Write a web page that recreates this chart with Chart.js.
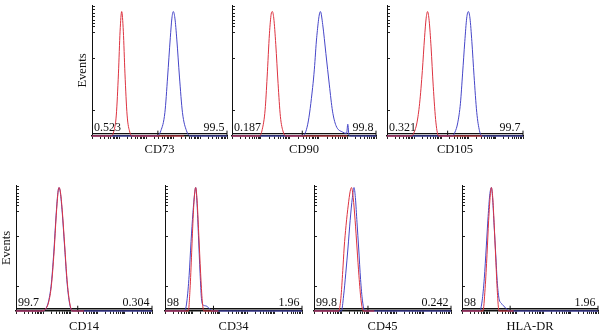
<!DOCTYPE html>
<html><head><meta charset="utf-8">
<script src="https://cdn.jsdelivr.net/npm/chart.js@4.4.1/dist/chart.umd.min.js"></script>
<style>
html,body{margin:0;padding:0;background:#fff;width:600px;height:333px;overflow:hidden;position:relative}
canvas{position:absolute}
</style></head><body>
<script>
// ---------- data ----------
const markers = ['CD73', 'CD90', 'CD105', 'CD14', 'CD34', 'CD45', 'HLA-DR'];
const leftPercent = ['0.523', '0.187', '0.321', '99.7', '98', '99.8', '98'];
const rightPercent = ['99.5', '99.8', '99.7', '0.304', '1.96', '0.242', '1.96'];
const gateSplit = [2.44, 2.44, 2.23, 2.27, 1.77, 1.97, 1.77];   // log10 fluorescence
const yTickValues = [19.6, 59.2, 78.8, 83.9, 86.0, 88.5, 91.1, 93.6, 96.2, 99.2];
const decadeStarts = [0, 1, 2, 3, 4];
const decadeMultipliers = [1, 2, 3, 4, 5, 6, 7, 8, 9];

// histograms: x = log10 fluorescence, y = events (% of max)
const cd73RedX  = [0, 0.70, 0.80, 0.90, 0.98, 1.04, 1.10, 1.16, 1.22, 1.30, 1.40, 1.50, 3.40];
const cd73RedY  = [0, 0, 3, 16, 48, 80, 95, 80, 48, 16, 3, 0, 0];
const cd73BlueX = [0, 2.40, 2.55, 2.70, 2.80, 2.90, 2.96, 3.01, 3.07, 3.14, 3.24, 3.35, 3.50, 3.65, 5];
const cd73BlueY = [0, 0, 4, 18, 45, 75, 90, 95, 90, 74, 45, 18, 4, 0, 0];

const cd90RedX  = [0, 0.95, 1.05, 1.15, 1.22, 1.30, 1.36, 1.40, 1.45, 1.52, 1.60, 1.68, 1.78, 1.88, 4.0];
const cd90RedY  = [0, 0, 5, 20, 45, 78, 93, 95, 90, 70, 40, 15, 3, 0, 0];
const cd90BlueX = [0, 2.44, 2.63, 2.80, 2.86, 2.94, 3.07, 3.15, 3.26, 3.38, 3.49, 3.61, 3.84, 3.98, 4.02, 4.06, 4.12, 5];
const cd90BlueY = [0, 0, 9, 37, 51, 75, 95, 85, 63, 39, 19, 8, 3, 2, 9, 1, 0, 0];

const cd105RedX  = [0, 0.90, 1.00, 1.10, 1.20, 1.30, 1.38, 1.44, 1.49, 1.55, 1.62, 1.70, 1.80, 1.90, 3.5];
const cd105RedY  = [0, 0, 3, 10, 25, 50, 75, 90, 95, 88, 68, 38, 10, 0, 0];
const cd105BlueX = [0, 2.40, 2.50, 2.60, 2.70, 2.78, 2.86, 2.93, 2.99, 3.05, 3.12, 3.20, 3.30, 3.40, 3.50, 5];
const cd105BlueY = [0, 0, 3, 10, 25, 48, 72, 90, 95, 90, 72, 46, 18, 4, 0, 0];

const cd14RedX  = [0, 0.95, 1.10, 1.20, 1.30, 1.40, 1.48, 1.54, 1.58, 1.63, 1.70, 1.79, 1.88, 1.97, 2.07, 2.5];
const cd14RedY  = [0, 0, 2, 7, 20, 47, 76, 93, 98, 95, 80, 52, 24, 7, 0, 0];
const cd14BlueX = [0, 0.95, 1.10, 1.20, 1.30, 1.40, 1.48, 1.54, 1.58, 1.63, 1.70, 1.79, 1.88, 1.97, 2.07, 5];
const cd14BlueY = [0, 0, 2, 8, 22, 50, 78, 94, 98, 94, 78, 50, 22, 6, 0, 0];

const cd34RedX  = [0, 0.85, 0.92, 0.98, 1.04, 1.09, 1.12, 1.17, 1.23, 1.30, 1.36, 1.42, 1.95];
const cd34RedY  = [0, 0, 20, 50, 80, 95, 98, 88, 62, 30, 8, 0, 0];
const cd34BlueX = [0, 0.72, 0.80, 0.88, 0.95, 1.02, 1.08, 1.12, 1.17, 1.22, 1.28, 1.33, 1.38, 1.50, 1.62, 1.75, 5];
const cd34BlueY = [0, 0, 8, 28, 55, 78, 93, 98, 85, 60, 30, 10, 5, 4, 2, 0, 0];

const cd45RedX  = [0, 0.90, 0.98, 1.05, 1.10, 1.17, 1.25, 1.32, 1.37, 1.43, 1.50, 1.57, 1.64, 1.72, 1.80, 2.2];
const cd45RedY  = [0, 0, 10, 32, 50, 68, 84, 95, 98, 90, 72, 50, 28, 8, 0, 0];
const cd45BlueX = [0, 1.00, 1.08, 1.16, 1.24, 1.32, 1.40, 1.46, 1.51, 1.57, 1.63, 1.70, 1.77, 1.86, 5];
const cd45BlueY = [0, 0, 12, 30, 50, 72, 90, 98, 90, 70, 50, 25, 8, 0, 0];

const hlaRedX  = [0, 0.77, 0.85, 0.92, 0.98, 1.04, 1.08, 1.13, 1.18, 1.24, 1.30, 1.36, 1.9];
const hlaRedY  = [0, 0, 18, 45, 72, 92, 98, 90, 70, 42, 15, 0, 0];
const hlaBlueX = [0, 0.65, 0.74, 0.82, 0.89, 0.96, 1.02, 1.08, 1.13, 1.18, 1.24, 1.30, 1.36, 1.45, 1.58, 1.74, 5];
const hlaBlueY = [0, 0, 8, 26, 50, 75, 92, 98, 88, 68, 45, 22, 10, 6, 3, 0, 0];

const redSeries  = [[cd73RedX, cd73RedY], [cd90RedX, cd90RedY], [cd105RedX, cd105RedY], [cd14RedX, cd14RedY], [cd34RedX, cd34RedY], [cd45RedX, cd45RedY], [hlaRedX, hlaRedY]];
const blueSeries = [[cd73BlueX, cd73BlueY], [cd90BlueX, cd90BlueY], [cd105BlueX, cd105BlueY], [cd14BlueX, cd14BlueY], [cd34BlueX, cd34BlueY], [cd45BlueX, cd45BlueY], [hlaBlueX, hlaBlueY]];

// ---------- layout (plot-area pixel boxes) ----------
const panelLayout = [
  {left: 92,  right: 228, top: 0,   bottom: 136, yTitle: true,  titlePad: 2.8},
  {left: 232, right: 377, top: 0,   bottom: 136, yTitle: false, titlePad: 2.8},
  {left: 387, right: 524, top: 0,   bottom: 136, yTitle: false, titlePad: 2.8},
  {left: 16,  right: 153, top: 180, bottom: 311, yTitle: true,  titlePad: 0.8},
  {left: 165, right: 303, top: 180, bottom: 311, yTitle: false, titlePad: 0.8},
  {left: 314, right: 452, top: 180, bottom: 311, yTitle: false, titlePad: 0.8},
  {left: 462, right: 599, top: 180, bottom: 311, yTitle: false, titlePad: 0.8}
];
const Y_AXIS_W = 20, X_AXIS_H = 24, PAD_R = 4;
const RED = '#dd3340', BLUE = '#4646c8';
const FONT = '"Liberation Serif", "Times New Roman", serif';
const GATE_Y = 1.8;

Chart.defaults.font.family = FONT;

function pts(xs, ys) { return xs.map((x, i) => ({x: x, y: ys[i]})); }

const gateLabels = {
  id: 'gateLabels',
  afterDatasetsDraw(chart, args, opts) {
    const {ctx, chartArea, scales} = chart;
    const y = scales.y.getPixelForValue(GATE_Y) - 3;
    ctx.save();
    ctx.fillStyle = '#111';
    ctx.font = '12px ' + FONT;
    ctx.textBaseline = 'alphabetic';
    ctx.textAlign = 'left';
    ctx.fillText(opts.left, chartArea.left + 2, y);
    ctx.textAlign = 'right';
    ctx.fillText(opts.right, chartArea.right - 2.5, y);
    ctx.restore();
  }
};

markers.forEach((name, i) => {
  const L = panelLayout[i];
  const cv = document.createElement('canvas');
  const w = (L.right - L.left) + Y_AXIS_W + PAD_R;
  const h = (L.bottom - L.top) + X_AXIS_H;
  cv.width = w; cv.height = h;
  cv.style.left = (L.left - Y_AXIS_W) + 'px';
  cv.style.top = L.top + 'px';
  cv.style.width = w + 'px'; cv.style.height = h + 'px';
  document.body.appendChild(cv);

  const line = (data, color) => ({
    data: data, borderColor: color, borderWidth: 1, pointRadius: 0,
    cubicInterpolationMode: 'monotone', fill: false, clip: false
  });

  new Chart(cv, {
    type: 'line',
    data: {
      datasets: [
        line(pts(redSeries[i][0], redSeries[i][1]), RED),
        line(pts(blueSeries[i][0], blueSeries[i][1]), BLUE),
        {
          data: [{x: 0, y: GATE_Y}, {x: gateSplit[i], y: GATE_Y}, {x: 5, y: GATE_Y}],
          borderColor: '#111', borderWidth: 1.3, pointStyle: 'line', rotation: 90,
          pointRadius: [0, 3, 3], pointBorderColor: '#111', pointBorderWidth: 1,
          pointBackgroundColor: '#111', clip: false, tension: 0
        }
      ]
    },
    options: {
      responsive: false, animation: false, devicePixelRatio: 1,
      layout: {padding: {left: 0, top: 0, bottom: 0, right: PAD_R}},
      plugins: {legend: {display: false}, tooltip: {enabled: false},
        gateLabels: {left: leftPercent[i], right: rightPercent[i]}},
      scales: {
        x: {
          type: 'linear', min: 0, max: 5,
          afterBuildTicks(scale) {
            const t = [];
            decadeStarts.forEach(d => decadeMultipliers.forEach(m => t.push({value: d + Math.log10(m)})));
            t.push({value: 5});
            scale.ticks = t;
          },
          afterFit(scale) { scale.height = X_AXIS_H; },
          ticks: {display: false, autoSkip: false},
          grid: {drawOnChartArea: false, drawTicks: true, tickLength: 3, color: '#222', lineWidth: 1},
          border: {display: true, color: '#111', width: 1.5},
          title: {display: true, text: name, color: '#111', font: {size: 12.5, family: FONT},
            padding: {top: 0, bottom: L.titlePad}}
        },
        y: {
          type: 'linear', min: 0, max: 100,
          afterBuildTicks(scale) { scale.ticks = yTickValues.map(v => ({value: v})); },
          afterFit(scale) { scale.width = Y_AXIS_W; },
          ticks: {display: false},
          grid: {drawOnChartArea: false, drawTicks: true, tickLength: -3, color: '#222', lineWidth: 1},
          border: {display: true, color: '#111', width: 1},
          title: {display: L.yTitle, text: 'Events', color: '#111', font: {size: 12.5, family: FONT},
            padding: {top: 3, bottom: 0}}
        }
      }
    },
    plugins: [gateLabels]
  });
});
</script>
</body></html>
